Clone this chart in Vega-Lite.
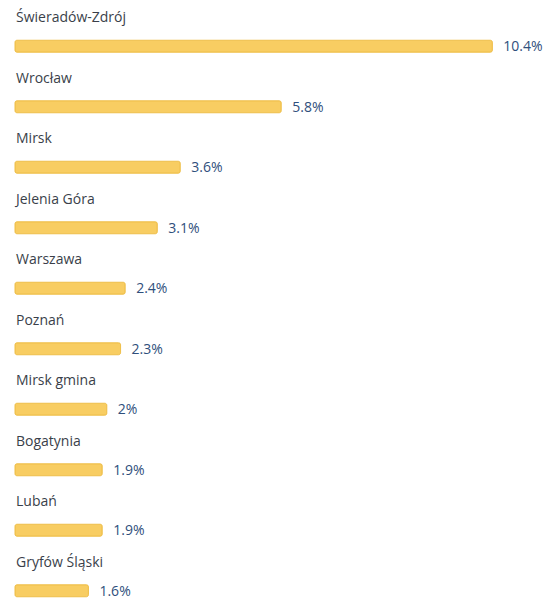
{
  "$schema": "https://vega.github.io/schema/vega-lite/v6.json",
  "width": 558,
  "height": 605,
  "autosize": {"type": "fit", "contains": "padding"},
  "padding": {"left": 14, "right": 0, "top": 0, "bottom": 0},
  "background": "white",
  "config": {"view": {"stroke": null}},
  "data": {
    "values": [
      {"city": "Świeradów-Zdrój", "pct": 10.4, "label": "10.4%"},
      {"city": "Wrocław", "pct": 5.8, "label": "5.8%"},
      {"city": "Mirsk", "pct": 3.6, "label": "3.6%"},
      {"city": "Jelenia Góra", "pct": 3.1, "label": "3.1%"},
      {"city": "Warszawa", "pct": 2.4, "label": "2.4%"},
      {"city": "Poznań", "pct": 2.3, "label": "2.3%"},
      {"city": "Mirsk gmina", "pct": 2.0, "label": "2%"},
      {"city": "Bogatynia", "pct": 1.9, "label": "1.9%"},
      {"city": "Lubań", "pct": 1.9, "label": "1.9%"},
      {"city": "Gryfów Śląski", "pct": 1.6, "label": "1.6%"}
    ]
  },
  "encoding": {
    "y": {
      "field": "city",
      "type": "nominal",
      "sort": null,
      "axis": null,
      "scale": {"paddingInner": 0, "paddingOuter": 0}
    }
  },
  "layer": [
    {
      "mark": {"type": "bar", "height": 12, "yOffset": 16, "color": "#f8cd62", "stroke": "#efbf4a", "strokeWidth": 1, "cornerRadius": 2},
      "encoding": {
        "x": {"field": "pct", "type": "quantitative", "axis": null, "scale": {"domain": [0, 11.83], "nice": false, "zero": true}}
      }
    },
    {
      "mark": {"type": "text", "align": "left", "baseline": "middle", "dy": 0, "yOffset": 17, "dx": 11, "font": "Open Sans", "fontSize": 14, "color": "#2f4f7c"},
      "encoding": {
        "x": {"field": "pct", "type": "quantitative"},
        "text": {"field": "label"}
      }
    },
    {
      "mark": {"type": "text", "align": "left", "baseline": "middle", "yOffset": -12, "dx": 1, "font": "Open Sans", "fontSize": 14, "color": "#3a3f4a"},
      "encoding": {
        "x": {"datum": 0, "type": "quantitative"},
        "text": {"field": "city"}
      }
    }
  ]
}
